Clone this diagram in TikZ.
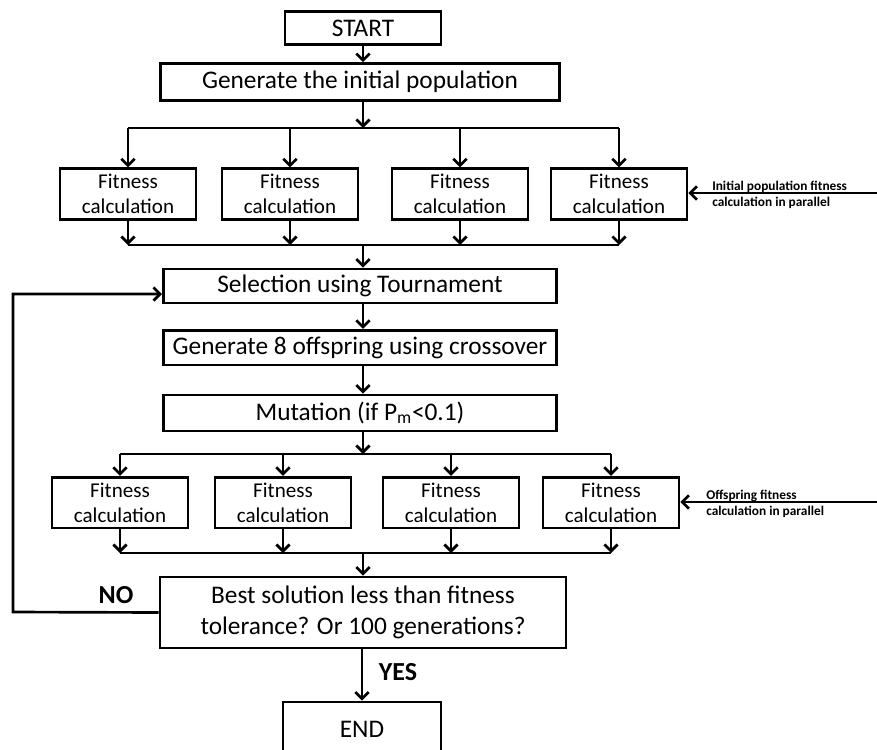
\documentclass[tikz,border=0pt]{standalone}
\usepackage{fontspec}
\setmainfont{Carlito}
\usetikzlibrary{arrows.meta}

\begin{document}
\begin{tikzpicture}[x=0.75pt, y=-0.75pt,
		every node/.style={font=\fontsize{19}{23}\selectfont},
		box/.style={draw, line width=2pt, inner sep=0pt, align=center},
		fitbox/.style={box, minimum width=102pt, minimum height=38pt, font=\fontsize{15.8}{19}\selectfont},
		note/.style={anchor=west, align=left, inner sep=0pt, font=\fontsize{10}{12.5}\selectfont\bfseries},
		answer/.style={font=\fontsize{19.5}{23}\selectfont\bfseries},
		flow/.style={line width=2pt, -{Straight Barb[length=5pt, width=10pt, line width=2pt]}},
		link/.style={line width=2pt}]
		\useasboundingbox (0,0) rectangle (877,749);
		
		% Set the boxes of the main column
		\node[box, minimum width=117pt, minimum height=24.75pt] (start) at (363,28) {START};
		\node[box, minimum width=299pt, minimum height=27.75pt] (gen) at (360,82) {Generate the initial population};
		\node[box, minimum width=295pt, minimum height=25.5pt] (sel) at (360,286) {Selection using Tournament};
		\node[box, minimum width=295pt, minimum height=26pt] (off) at (360,347.5) {Generate 8 offspring using crossover};
		\node[box, minimum width=295pt, minimum height=27pt] (mut) at (360,413) {Mutation (if P\textsubscript{m}<0.1)};
		\node[box, minimum width=304.5pt, minimum height=53.25pt] (dec) at (363,612.5) {Best solution less than fitness\\tolerance? Or 100 generations?};
		\node[box, minimum width=118.5pt, minimum height=40.5pt] (end) at (362,729) {END};
		
		% Set the fitness boxes of both rows
		\foreach \n/\x in {1/128,2/290,3/460,4/619}
		\node[fitbox] (F\n) at (\x,194) {Fitness\\calculation};
		\foreach \n/\x in {1/120,2/283,3/451,4/611}
		\node[fitbox] (G\n) at (\x,502.5) {Fitness\\calculation};
		
		% Set the split and merge points
		\coordinate (split1) at (363,128);
		\coordinate (merge1) at (363,245);
		\coordinate (split2) at (363,454);
		\coordinate (merge2) at (363,553);
		\coordinate (back) at (13,612);
		\coordinate (in1) at (877,193);
		\coordinate (in2) at (877,502);
		
		% Connect the main column
		\draw[flow] (start) -- (start |- gen.north);
		\draw[flow] (gen.south -| split1) -- (split1);
		\draw[flow] (merge1) -- (merge1 |- sel.north);
		\draw[flow] (sel.south -| split1) -- (split1 |- off.north);
		\draw[flow] (off.south -| split1) -- (split1 |- mut.north);
		\draw[flow] (mut.south -| split2) -- (split2);
		\draw[flow] (merge2) -- (merge2 |- dec.north);
		\draw[flow] (dec.south -| end) -- (end);
		
		% Connect the first row in parallel
		\draw[link] (split1 -| F1) -- (split1 -| F4);
		\draw[link] (merge1 -| F1) -- (merge1 -| F4);
		\foreach \n in {1,...,4}
		{
			\draw[flow] (split1 -| F\n) -- (F\n);
			\draw[flow] (F\n) -- (merge1 -| F\n);
		}
		
		% Connect the second row in parallel
		\draw[link] (split2 -| G1) -- (split2 -| G4);
		\draw[link] (merge2 -| G1) -- (merge2 -| G4);
		\foreach \n in {1,...,4}
		{
			\draw[flow] (split2 -| G\n) -- (G\n);
			\draw[flow] (G\n) -- (merge2 -| G\n);
		}
		
		% Loop back when the test fails
		\draw[flow] (dec.west) -- (back) |- ([yshift=-6pt]sel.west);
		\node[answer] (no) at (116,595) {NO};
		\node[answer] (yes) at (398,672) {YES};
		
		% Side notes
		\draw[flow] (in1) -- (in1 -| F4.east);
		\draw[flow] (in2) -- (in2 -| G4.east);
		\node[note] (note1) at (712,195) {Initial population fitness\\calculation in parallel};
		\node[note] (note2) at (706,504) {Offspring fitness\\calculation in parallel};
		
	\end{tikzpicture}
\end{document}
